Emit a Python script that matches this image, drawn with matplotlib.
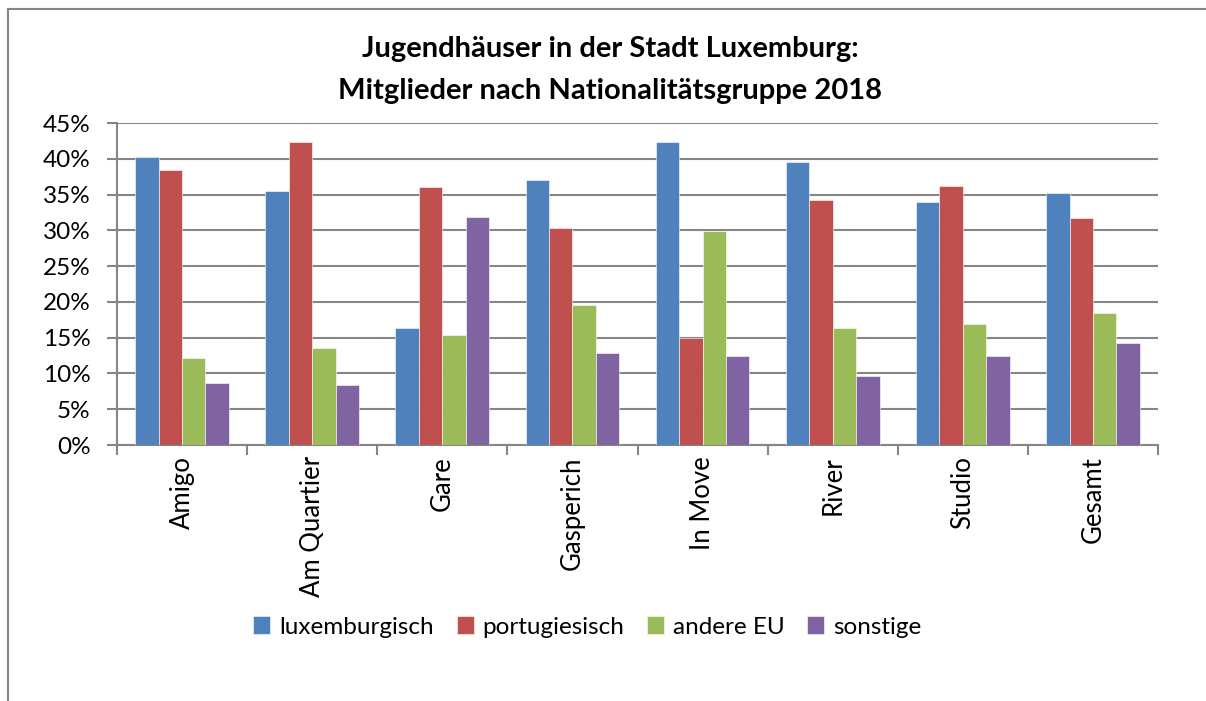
import matplotlib
matplotlib.use("Agg")
import matplotlib.pyplot as plt
from matplotlib.lines import Line2D
import numpy as np

plt.rcParams['font.family'] = ['Lato', 'DejaVu Sans']

categories = ['Amigo', 'Am Quartier', 'Gare', 'Gasperich', 'In Move', 'River', 'Studio', 'Gesamt']
series_names = ['luxemburgisch', 'portugiesisch', 'andere EU', 'sonstige']
luxemburgisch = [40.3, 35.5, 16.3, 37.1, 42.4, 39.5, 34.0, 35.2]
portugiesisch = [38.5, 42.3, 36.1, 30.3, 14.9, 34.3, 36.2, 31.7]
andere_eu = [12.2, 13.5, 15.4, 19.5, 29.9, 16.3, 16.9, 18.5]
sonstige = [8.6, 8.4, 31.8, 12.9, 12.5, 9.6, 12.5, 14.3]
colors = ['#4F81BD', '#C0504D', '#9BBB59', '#8064A2']

series = [luxemburgisch, portugiesisch, andere_eu, sonstige]

fig = plt.figure(figsize=(12.06, 7.01), dpi=100)
ax = fig.add_axes([117 / 1206, 1 - 445 / 701, (1158 - 117) / 1206, (445 - 123) / 701])

# outer chart border (only top and left visible)
fig.add_artist(Line2D([8 / 1206, 8 / 1206], [0, 1 - 9 / 701], transform=fig.transFigure,
                      color='#868686', lw=1.5))
fig.add_artist(Line2D([8 / 1206, 1], [1 - 9 / 701, 1 - 9 / 701], transform=fig.transFigure,
                      color='#868686', lw=1.5))

x = np.arange(len(categories))
w = 0.18
for i, (vals, col, name) in enumerate(zip(series, colors, series_names)):
    ax.bar(x + (i - 1.5) * w, vals, width=w, color=col, label=name, zorder=3,
           edgecolor='white', linewidth=0.4)

ax.set_xlim(-0.5, len(categories) - 0.5)
ax.set_ylim(0, 45)
ax.set_yticks(np.arange(0, 46, 5))
ax.set_yticklabels([f'{v}%' for v in range(0, 46, 5)], fontsize=17.5)
ax.yaxis.grid(True, color='#868686', lw=1.5, zorder=0)

ax.set_xticks(x)
ax.set_xticklabels(categories, rotation=90, fontsize=18.5, va='top')
ax.tick_params(axis='x', length=0, pad=8)
ax.set_xticks(np.arange(-0.5, len(categories), 1), minor=True)
ax.tick_params(axis='x', which='minor', length=7, color='#868686', width=1.5)
ax.tick_params(axis='y', length=7, color='#868686', width=1.5, pad=12)

for s in ['top', 'right']:
    ax.spines[s].set_visible(False)
for s in ['left', 'bottom']:
    ax.spines[s].set_color('#868686')
    ax.spines[s].set_linewidth(1.5)

fig.text(0.506, 1 - 49 / 701, 'Jugendhäuser in der Stadt Luxemburg:', ha='center', va='center',
         fontsize=21, fontweight='bold')
fig.text(0.506, 1 - 91 / 701, 'Mitglieder nach Nationalitätsgruppe 2018', ha='center', va='center',
         fontsize=21, fontweight='bold')

fig.legend(loc='center', bbox_to_anchor=(0.487, 1 - 627 / 701), ncol=4, frameon=False,
           fontsize=17.5, handlelength=0.7, handleheight=0.7, handletextpad=0.35,
           columnspacing=0.95)

fig.savefig('out.png', dpi=100)
